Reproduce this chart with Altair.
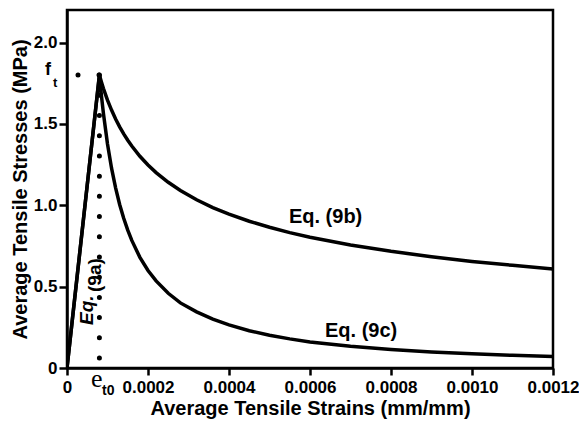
import altair as alt
import pandas as pd

# ---- data ----
strain_pts = [0.00008, 0.000085, 0.00009, 0.0001, 0.00011, 0.00012, 0.00013, 0.00014,
              0.00015, 0.00016, 0.00018, 0.0002, 0.00022, 0.00025, 0.00028, 0.00032,
              0.00036, 0.0004, 0.00045, 0.0005, 0.00055, 0.0006, 0.0007, 0.0008,
              0.0009, 0.0010, 0.0011, 0.0012]
eq9b = [1.800, 1.757, 1.717, 1.646, 1.585, 1.530, 1.482, 1.439, 1.400, 1.364, 1.301,
        1.248, 1.201, 1.141, 1.091, 1.034, 0.986, 0.946, 0.902, 0.865, 0.832, 0.804,
        0.756, 0.717, 0.684, 0.655, 0.631, 0.609]
eq9c = [1.800, 1.674, 1.563, 1.377, 1.228, 1.107, 1.005, 0.920, 0.847, 0.784, 0.680,
        0.599, 0.535, 0.459, 0.400, 0.345, 0.300, 0.265, 0.229, 0.201, 0.179, 0.160,
        0.133, 0.114, 0.099, 0.087, 0.078, 0.070]
eq9a_strain = [0.0, 0.00008]
eq9a_stress = [0.0, 1.8]

et0 = 0.00008
ft = 1.8

x_ticks = [0, 0.0002, 0.0004, 0.0006, 0.0008, 0.0010, 0.0012]
y_ticks = [0, 0.5, 1.0, 1.5, 2.0]

# ---- tables ----
rows = []
for name, vals in (("9b", eq9b), ("9c", eq9c)):
    rows.append({"strain": eq9a_strain[0], "stress": eq9a_stress[0], "series": name})
    for s, v in zip(strain_pts, vals):
        rows.append({"strain": s, "stress": v, "series": name})
curves = pd.DataFrame(rows)

FONT = "Liberation Sans"

x_enc = alt.X("strain:Q",
              scale=alt.Scale(domain=[0, 0.0012], nice=False, zero=False),
              axis=alt.Axis(values=x_ticks, title="Average Tensile Strains (mm/mm)",
                            labelExpr="datum.value == 0 ? '0' : format(datum.value, '.4f')",
                            grid=False, domainColor="black", domainWidth=2.5,
                            tickColor="black", tickWidth=2.5, tickSize=7,
                            labelFont=FONT, labelFontSize=17, labelFontWeight="bold",
                            labelColor="black", labelPadding=4, labelFlush=False,
                            labelOverlap=False,
                            titleFont=FONT, titleFontSize=20, titleFontWeight="bold",
                            titleColor="black", titlePadding=3))
y_enc = alt.Y("stress:Q",
              scale=alt.Scale(domain=[0, 2.2], nice=False, zero=False),
              axis=alt.Axis(values=y_ticks, title="Average Tensile Stresses (MPa)",
                            labelExpr="datum.value == 0 ? '0' : format(datum.value, '.1f')",
                            grid=False, domainColor="black", domainWidth=2.5,
                            tickColor="black", tickWidth=2.5, tickSize=8,
                            labelFont=FONT, labelFontSize=17, labelFontWeight="bold",
                            labelColor="black", labelPadding=2, labelFlush=False,
                            labelOverlap=False,
                            titleFont=FONT, titleFontSize=20, titleFontWeight="bold",
                            titleColor="black", titlePadding=3))

lines = alt.Chart(curves).mark_line(color="black", strokeWidth=3.5, clip=True,
                                    strokeJoin="miter").encode(
    x=x_enc, y=y_enc, detail="series:N")

# dotted guide lines
vdots = alt.Chart(pd.DataFrame({"strain": [et0], "stress": [ft], "stress2": [0.06]})).mark_rule(
    color="black", strokeWidth=5, strokeCap="round", strokeDash=[0.01, 20.2]).encode(
    x=x_enc, y=y_enc, y2="stress2:Q")
hdots = alt.Chart(pd.DataFrame({"strain": [0.0000272], "strain2": [et0], "stress": [ft]})).mark_rule(
    color="black", strokeWidth=5, strokeCap="round", strokeDash=[0.01, 21]).encode(
    x=x_enc, x2="strain2:Q", y=y_enc)

def label(df, **kw):
    return alt.Chart(pd.DataFrame(df)).mark_text(color="black", **kw).encode(
        x=x_enc, y=y_enc, text="t:N")

eq9b_lab = label({"strain": [0.000548], "stress": [0.891], "t": ["Eq. (9b)"]},
                 font=FONT, fontSize=20, fontWeight="bold", align="left", baseline="alphabetic")
eq9c_lab = label({"strain": [0.000637], "stress": [0.19], "t": ["Eq. (9c)"]},
                 font=FONT, fontSize=20, fontWeight="bold", align="left", baseline="alphabetic")
eq9a_lab1 = label({"strain": [0.0000642], "stress": [0.264], "t": ["Eq."]},
                  font=FONT, fontSize=19, fontWeight="bold", fontStyle="italic",
                  align="left", baseline="alphabetic", angle=270)
eq9a_lab2 = label({"strain": [0.0000840], "stress": [0.467], "t": ["(9a)"]},
                  font=FONT, fontSize=19, fontWeight="bold",
                  align="left", baseline="alphabetic", angle=270)
ft_f = label({"strain": [-0.0000543], "stress": [1.80], "t": ["f"]},
             font=FONT, fontSize=18, fontWeight="bold", align="left", baseline="alphabetic")
ft_t = label({"strain": [-0.0000346], "stress": [1.727], "t": ["t"]},
             font=FONT, fontSize=13, fontWeight="bold", align="left", baseline="alphabetic")
et_e = label({"strain": [0.0000593], "stress": [-0.117], "t": ["e"]},
             font="Liberation Serif", fontSize=26, align="left", baseline="alphabetic")
et_t0 = label({"strain": [0.0000864], "stress": [-0.166], "t": ["t0"]},
              font=FONT, fontSize=14, fontWeight="bold", align="left", baseline="alphabetic")

chart = alt.layer(lines, vdots, hdots, eq9b_lab, eq9c_lab, eq9a_lab1, eq9a_lab2,
                  ft_f, ft_t, et_e, et_t0).properties(
    width=486, height=358,
    autosize=alt.AutoSizeParams(type="none"),
    padding={"left": 59, "top": 2, "right": 26, "bottom": 55},
    background="white",
).configure_view(stroke="black", strokeWidth=2.5)

chart.save("out.html", embed_options={"renderer": "svg", "actions": False})
